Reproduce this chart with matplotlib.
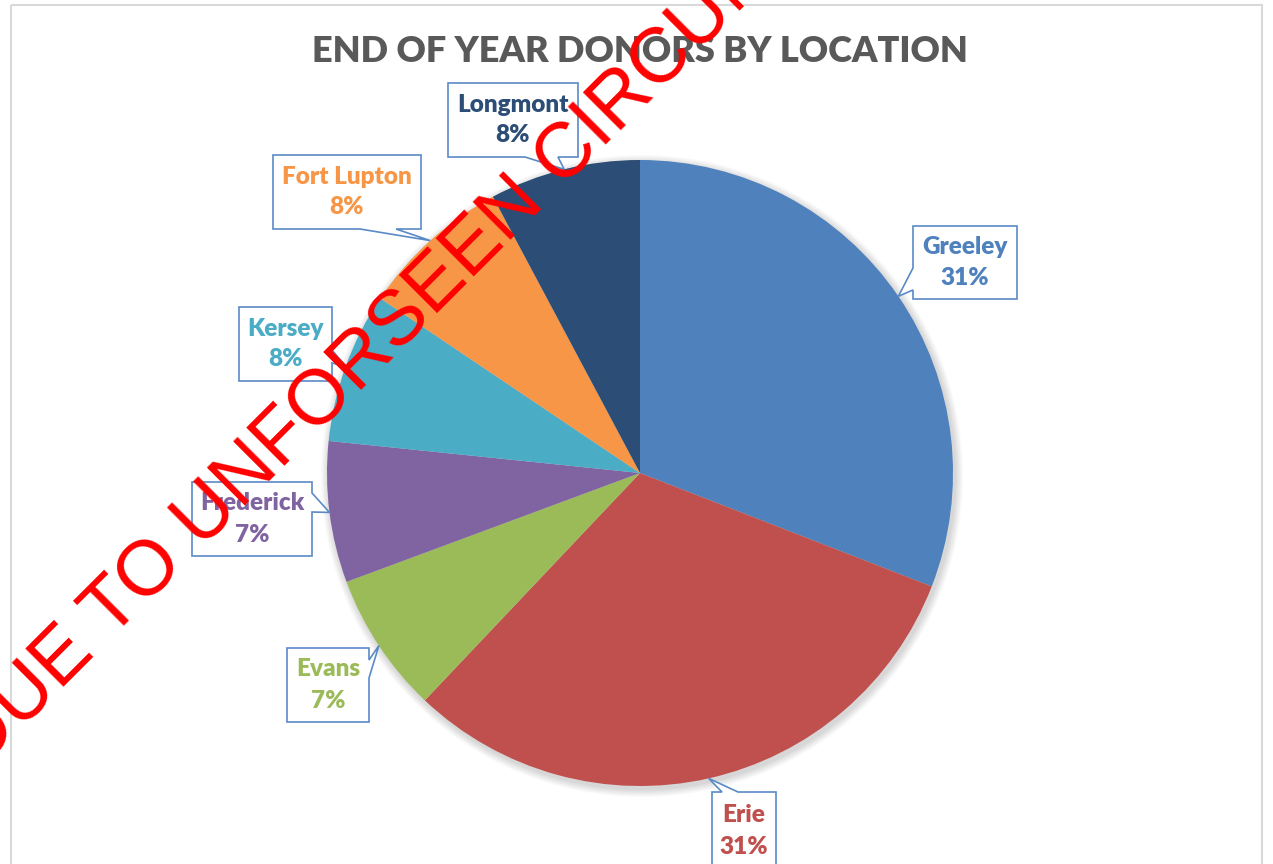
import numpy as np
import matplotlib.pyplot as plt
from matplotlib.patches import Polygon, Circle, Rectangle

# Data
locations = ['Greeley', 'Erie', 'Evans', 'Frederick', 'Kersey', 'Fort Lupton', 'Longmont']
donors = [123, 124, 29, 29, 31, 31, 31]
colours = ['#4F81BD', '#C0504D', '#9BBB59', '#8064A2', '#4BACC6', '#F79646', '#2C4D75']

title = 'END OF YEAR DONORS BY LOCATION'
watermark = 'DUE TO UNFORSEEN CIRCUMSTANCES'

W, H = 1273, 864
CX, CY, R = 640, 473, 313

# Callout boxes in pixel coords (x0, y0, x1, y1), notch side and notch base
boxes = {
    'Greeley': ((913, 226, 1017, 299), 'left', (268, 290)),
    'Erie': ((712, 792, 776, 870), 'top', (722, 738)),
    'Evans': ((287, 648, 369, 722), 'right', (660, 678)),
    'Frederick': ((192, 482, 312, 556), 'right', (493, 512)),
    'Kersey': ((239, 307, 332, 381), 'right', (350, 363)),
    'Fort Lupton': ((273, 155, 421, 229), 'bottom', (360, 396)),
    'Longmont': ((448, 83, 578, 157), 'bottom', (525, 558)),
}


def callout(box, side, notch, tip):
    x0, y0, x1, y1 = box
    a, b = notch
    pts = [(x0, y0)]
    if side == 'top':
        pts += [(a, y0), tip, (b, y0)]
    pts.append((x1, y0))
    if side == 'right':
        pts += [(x1, a), tip, (x1, b)]
    pts.append((x1, y1))
    if side == 'bottom':
        pts += [(b, y1), tip, (a, y1)]
    pts.append((x0, y1))
    if side == 'left':
        pts += [(x0, b), tip, (x0, a)]
    return pts


fig = plt.figure(figsize=(W / 100, H / 100), dpi=100)
ax = fig.add_axes([0, 0, 1, 1])

# chart area border
ax.add_patch(Rectangle((11, 5), 1251, 900, fill=False, ec='#D9D9D9', lw=1.5, zorder=0))

# soft shadow under the pie
for k in range(1, 9):
    ax.add_patch(Circle((CX + 2, CY + 3), R + k, color='black', alpha=0.018, lw=0, zorder=1))

# y axis points down, so counterclock=True runs clockwise on screen
wedges, _ = ax.pie(donors, colors=colours, startangle=-90, counterclock=True,
                   center=(CX, CY), radius=R, wedgeprops=dict(lw=0, zorder=2))

total = sum(donors)
for w, name, val, col in zip(wedges, locations, donors, colours):
    mid = np.deg2rad((w.theta1 + w.theta2) / 2)
    tip = (CX + R * np.cos(mid), CY + R * np.sin(mid))
    box, side, notch = boxes[name]
    ax.add_patch(Polygon(callout(box, side, notch, tip), closed=True, fc='white',
                         ec='#5A8AC6', lw=1.2, zorder=3))
    bx = (box[0] + box[2]) / 2
    by = (box[1] + box[3]) / 2
    pct = round(val / total * 100)
    ax.text(bx, by, f'{name}\n{pct}%', ha='center', va='center', color=col,
            fontsize=17.5, fontweight='heavy', family='Lato', linespacing=1.5, zorder=4)

ax.text(640, 52, title, ha='center', va='center', color='#595959',
        fontsize=26, fontweight='heavy', family='Lato', zorder=4)

ax.text(-20, 770, watermark, ha='left', va='baseline', rotation=45,
        rotation_mode='anchor', color='#FF0000', fontsize=56,
        family='Liberation Sans', zorder=10)

ax.set_xlim(0, W)
ax.set_ylim(H, 0)
ax.set_aspect('equal')
ax.axis('off')
fig.savefig('out.png', dpi=100, facecolor='white')
